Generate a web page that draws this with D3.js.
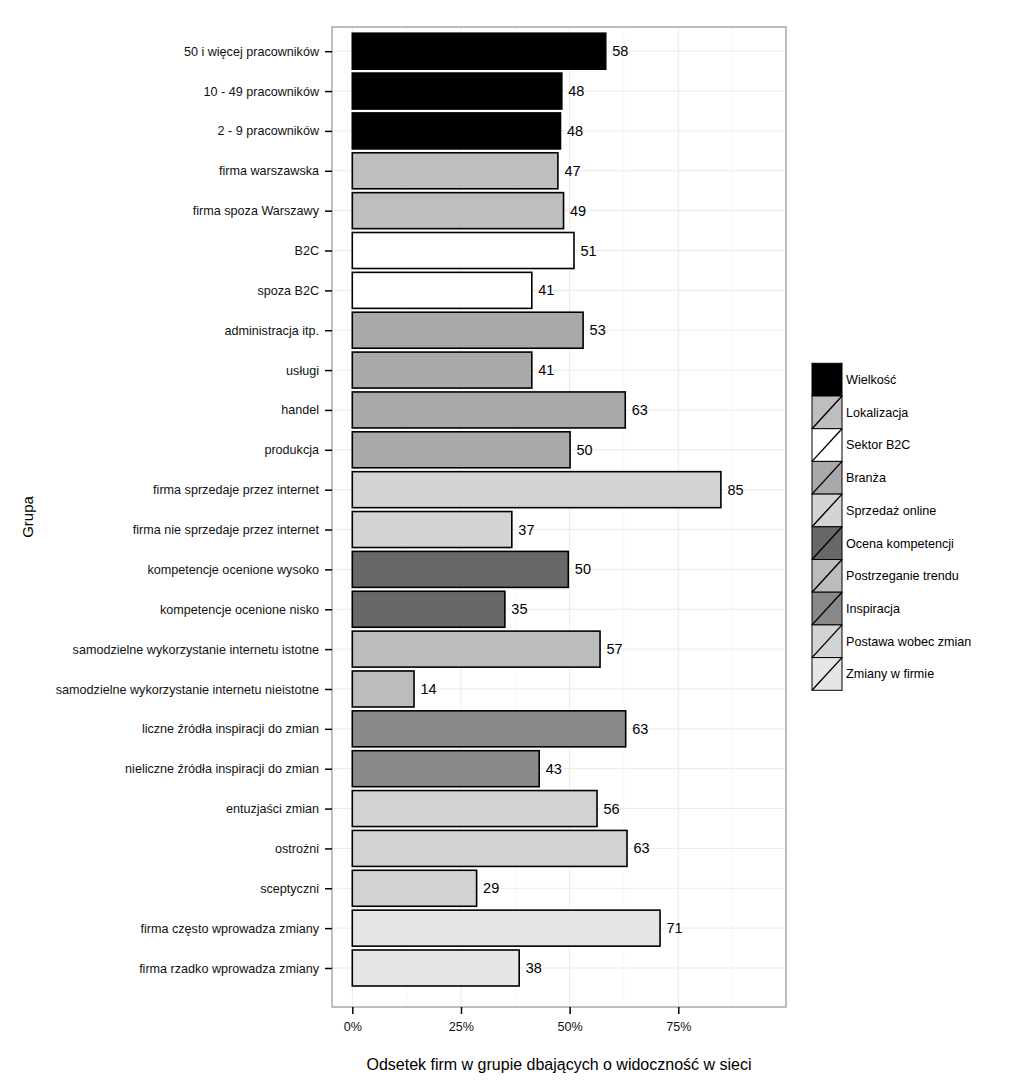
<!DOCTYPE html>
<html>
<head>
<meta charset="utf-8">
<script src="https://cdn.jsdelivr.net/npm/d3@7"></script>
<style>
  body { margin: 0; background: #fff; }
  svg { display: block; font-family: "Liberation Sans", Arial, sans-serif; }
</style>
</head>
<body>
<svg id="chart" width="1022" height="1091"></svg>
<script>
const categories = [
  "50 i więcej pracowników", "10 - 49 pracowników", "2 - 9 pracowników",
  "firma warszawska", "firma spoza Warszawy",
  "B2C", "spoza B2C",
  "administracja itp.", "usługi", "handel", "produkcja",
  "firma sprzedaje przez internet", "firma nie sprzedaje przez internet",
  "kompetencje ocenione wysoko", "kompetencje ocenione nisko",
  "samodzielne wykorzystanie internetu istotne", "samodzielne wykorzystanie internetu nieistotne",
  "liczne źródła inspiracji do zmian", "nieliczne źródła inspiracji do zmian",
  "entuzjaści zmian", "ostrożni", "sceptyczni",
  "firma często wprowadza zmiany", "firma rzadko wprowadza zmiany"
];
const groups = [
  "Wielkość", "Wielkość", "Wielkość",
  "Lokalizacja", "Lokalizacja",
  "Sektor B2C", "Sektor B2C",
  "Branża", "Branża", "Branża", "Branża",
  "Sprzedaż online", "Sprzedaż online",
  "Ocena kompetencji", "Ocena kompetencji",
  "Postrzeganie trendu", "Postrzeganie trendu",
  "Inspiracja", "Inspiracja",
  "Postawa wobec zmian", "Postawa wobec zmian", "Postawa wobec zmian",
  "Zmiany w firmie", "Zmiany w firmie"
];
const values = [58.3, 48.2, 47.9, 47.3, 48.6, 51.0, 41.3, 53.1, 41.3, 62.8, 50.1,
  84.8, 36.7, 49.7, 35.1, 57.0, 14.2, 62.9, 43.0, 56.3, 63.2, 28.6, 70.8, 38.4];
const legendGroups = ["Wielkość", "Lokalizacja", "Sektor B2C", "Branża", "Sprzedaż online",
  "Ocena kompetencji", "Postrzeganie trendu", "Inspiracja", "Postawa wobec zmian", "Zmiany w firmie"];
const groupColors = ["#000000", "#bebebe", "#ffffff", "#a9a9a9", "#d4d4d4",
  "#686868", "#bcbcbc", "#898989", "#d3d3d3", "#e6e6e6"];
const xTicks = [0, 25, 50, 75];
const xTickLabels = ["0%", "25%", "50%", "75%"];
const xMinor = [12.5, 37.5, 62.5, 87.5];

const data = categories.map((c, i) => ({ cat: c, group: groups[i], value: values[i] }));

const svg = d3.select("#chart");
const panel = { left: 332, right: 786, top: 27, bottom: 1007 };

const x = d3.scaleLinear().domain([-4.67, 99.78]).range([panel.left, panel.right]);
const y = d3.scalePoint().domain(categories).range([51.2, 968]);
const fill = d3.scaleOrdinal().domain(legendGroups).range(groupColors);
const barH = 36;

svg.append("rect").attr("x", panel.left).attr("y", panel.top)
  .attr("width", panel.right - panel.left).attr("height", panel.bottom - panel.top)
  .attr("fill", "#fff");

svg.append("g").selectAll("line").data(xMinor).join("line")
  .attr("x1", d => x(d)).attr("x2", d => x(d))
  .attr("y1", panel.top).attr("y2", panel.bottom)
  .attr("stroke", "#f6f6f6").attr("stroke-width", 1);
svg.append("g").selectAll("line").data(xTicks).join("line")
  .attr("x1", d => x(d)).attr("x2", d => x(d))
  .attr("y1", panel.top).attr("y2", panel.bottom)
  .attr("stroke", "#ebebeb").attr("stroke-width", 1);
svg.append("g").selectAll("line").data(categories).join("line")
  .attr("x1", panel.left).attr("x2", panel.right)
  .attr("y1", d => y(d)).attr("y2", d => y(d))
  .attr("stroke", "#ebebeb").attr("stroke-width", 1);

svg.append("g").selectAll("rect").data(data).join("rect")
  .attr("x", x(0))
  .attr("y", d => y(d.cat) - barH / 2)
  .attr("width", d => x(d.value) - x(0))
  .attr("height", barH)
  .attr("fill", d => fill(d.group))
  .attr("stroke", "#000").attr("stroke-width", 1.6);

svg.append("g").selectAll("text").data(data).join("text")
  .attr("x", d => x(d.value) + 6.5)
  .attr("y", d => y(d.cat))
  .attr("dy", "0.35em")
  .attr("font-size", 14.5)
  .attr("fill", "#000")
  .text(d => Math.round(d.value));

svg.append("rect").attr("x", panel.left).attr("y", panel.top)
  .attr("width", panel.right - panel.left).attr("height", panel.bottom - panel.top)
  .attr("fill", "none").attr("stroke", "#7f7f7f").attr("stroke-width", 1);

const yAxis = d3.axisLeft(y).tickSize(7).tickPadding(6);
const gy = svg.append("g").attr("transform", `translate(${panel.left},0)`).call(yAxis);
gy.select(".domain").remove();
gy.selectAll(".tick line").attr("stroke", "#000").attr("stroke-width", 1.5);
gy.selectAll(".tick text").attr("font-size", 12.6).attr("fill", "#111")
  .attr("font-family", "Liberation Sans, Arial, sans-serif");

const xAxis = d3.axisBottom(x).tickValues(xTicks).tickFormat((d, i) => xTickLabels[i])
  .tickSize(7).tickPadding(8);
const gx = svg.append("g").attr("transform", `translate(0,${panel.bottom})`).call(xAxis);
gx.select(".domain").remove();
gx.selectAll(".tick line").attr("stroke", "#000").attr("stroke-width", 1.5);
gx.selectAll(".tick text").attr("font-size", 12.6).attr("fill", "#111")
  .attr("font-family", "Liberation Sans, Arial, sans-serif");

svg.append("text").attr("x", (panel.left + panel.right) / 2).attr("y", 1070)
  .attr("text-anchor", "middle").attr("font-size", 16).attr("fill", "#000")
  .text("Odsetek firm w grupie dbających o widoczność w sieci");
svg.append("text").attr("transform", "translate(33,517) rotate(-90)")
  .attr("text-anchor", "middle").attr("font-size", 15).attr("fill", "#000")
  .text("Grupa");

const leg = { x: 812, y: 363.3, w: 30, h: 32.7 };
const lg = svg.append("g").selectAll("g").data(legendGroups).join("g")
  .attr("transform", (d, i) => `translate(${leg.x},${leg.y + i * leg.h})`);
lg.append("rect").attr("width", leg.w).attr("height", leg.h)
  .attr("fill", d => fill(d)).attr("stroke", "#000").attr("stroke-width", 1);
lg.append("line").attr("x1", 0).attr("y1", leg.h).attr("x2", leg.w).attr("y2", 0)
  .attr("stroke", "#000").attr("stroke-width", 1.4);
lg.append("text").attr("x", leg.w + 4).attr("y", leg.h / 2).attr("dy", "0.35em")
  .attr("font-size", 12.6).attr("fill", "#000").text(d => d);
</script>
</body>
</html>
